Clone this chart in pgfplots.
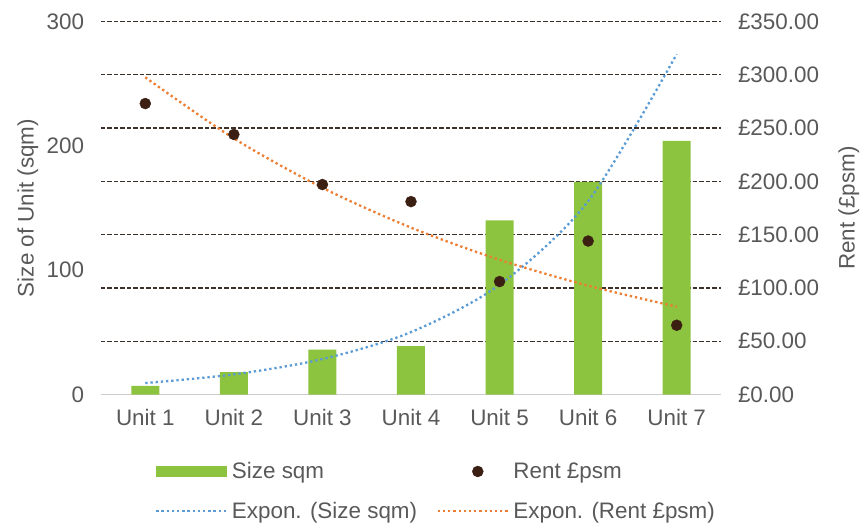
\documentclass[border=0pt]{standalone}
\usepackage{fontspec}
\setmainfont{Liberation Sans}
\usepackage{pgfplots}
\pgfplotsset{compat=1.18}
\definecolor{barg}{HTML}{8CC43F}
\definecolor{txt}{HTML}{595959}
\definecolor{trblue}{HTML}{5B9BD5}
\definecolor{trorange}{HTML}{ED7D31}
\definecolor{dotc}{HTML}{3A1F12}
\definecolor{gridc}{HTML}{3C3028}
\newcommand{\bigf}{\fontsize{22.5}{27}\selectfont}
\tikzset{
 bluetr/.style={trblue, line width=2.3bp, dash pattern=on 2.3bp off 2.9bp},
 orangetr/.style={trorange, line width=2.3bp, dash pattern=on 2.3bp off 2.9bp},
}
\pgfplotsset{
 common/.style={
  scale only axis, width=620bp, height=373bp,
  xmin=0.5, xmax=7.5,
  font=\bigf,
  tick label style={color=txt, font=\bigf},
  label style={color=txt, font=\bigf},
  /pgf/number format/assume math mode=true,
  major tick length=0pt, minor tick length=0pt,
  tick style={draw=none},
 },
 marklegend/.style={legend image code/.code={\draw[mark repeat=2,mark phase=2,##1] plot coordinates {(0bp,0bp) (40bp,0bp) (70bp,0bp)};}},
 linelegend/.style={legend image code/.code={\draw[##1] (0bp,0bp) -- (70bp,0bp);}},
 barlegend/.style={legend image code/.code={\fill[barg] (0bp,-5bp) rectangle (70bp,5bp);}},
 bluelegend/.style={legend image code/.code={\draw[bluetr] (0bp,0bp) -- (70bp,0bp);}},
}
\begin{document}
\begin{tikzpicture}
\begin{axis}[common,
 ymin=0, ymax=300, ytick={0,100,200,300},
 xtick={1,2,3,4,5,6,7},
 xticklabels={Unit 1,Unit 2,Unit 3,Unit 4,Unit 5,Unit 6,Unit 7},
 xticklabel style={yshift=-11bp},
 yticklabel style={xshift=-13.5bp},
 axis x line*=bottom, axis y line*=left,
 y axis line style={draw=none},
 x axis line style={draw=gray!40, line width=1bp, -},
 extra y ticks={42.857,85.714,128.571,171.429,214.286,257.143,300},
 extra y tick labels={},
 extra y tick style={ymajorgrids=true, grid style={gridc, line width=1.2bp, dash pattern=on 4.5bp off 2bp}},
 ylabel={Size of Unit (sqm)},
 ylabel style={at={(axis description cs:-0.118,0.5)}, anchor=center},
]
\addplot[ybar, bar width=28bp, fill=barg, draw=none] coordinates {
 (1,7) (2,18) (3,36) (4,39) (5,140) (6,171) (7,204)};
\addplot[bluetr, smooth] coordinates {
 (1,9.2) (2,16.2) (3,28.5) (4,50.2) (5,88.3) (6,155.5) (7,273.7)};
\end{axis}
\begin{axis}[common,
 ymin=0, ymax=350, ytick={0,50,100,150,200,250,300,350},
 xtick=\empty,
 axis y line*=right, axis x line=none,
 y axis line style={draw=none},
 yticklabel style={xshift=13.5bp},
 yticklabel={£\pgfmathprintnumber[fixed,fixed zerofill,precision=2]{\tick}},
 ylabel={Rent (£psm)},
 ylabel style={at={(axis description cs:1.206,0.5)}, anchor=center},
 legend columns=2,
 legend cell align=left,
 legend style={draw=none, fill=none, at={(axis description cs:0.087,-0.170)}, anchor=north west,
   inner sep=0pt, font=\bigf, text=txt, row sep=13bp,
   nodes={inner sep=4.5bp},
   /tikz/every even column/.append style={column sep=15bp}},
]
\addlegendimage{barlegend}
\addlegendentry{Size sqm}
\addplot[only marks, mark=*, mark size=5.5bp, mark options={fill=dotc, draw=dotc}, marklegend]
 coordinates {(1,273) (2,244) (3,197) (4,181) (5,106) (6,144) (7,65)};
\addlegendentry{Rent £psm}
\addlegendimage{bluelegend}
\addlegendentry{Expon. (Size sqm)}
\addplot[orangetr, smooth, linelegend] coordinates {
 (1,297.6) (2,240.3) (3,194.0) (4,156.6) (5,126.4) (6,102.1) (7,82.4)};
\addlegendentry{Expon. (Rent £psm)}
\end{axis}
\pgfresetboundingbox
\path[use as bounding box] (-101bp,-131.5bp) rectangle (761bp,394.5bp);
\end{tikzpicture}
\end{document}
